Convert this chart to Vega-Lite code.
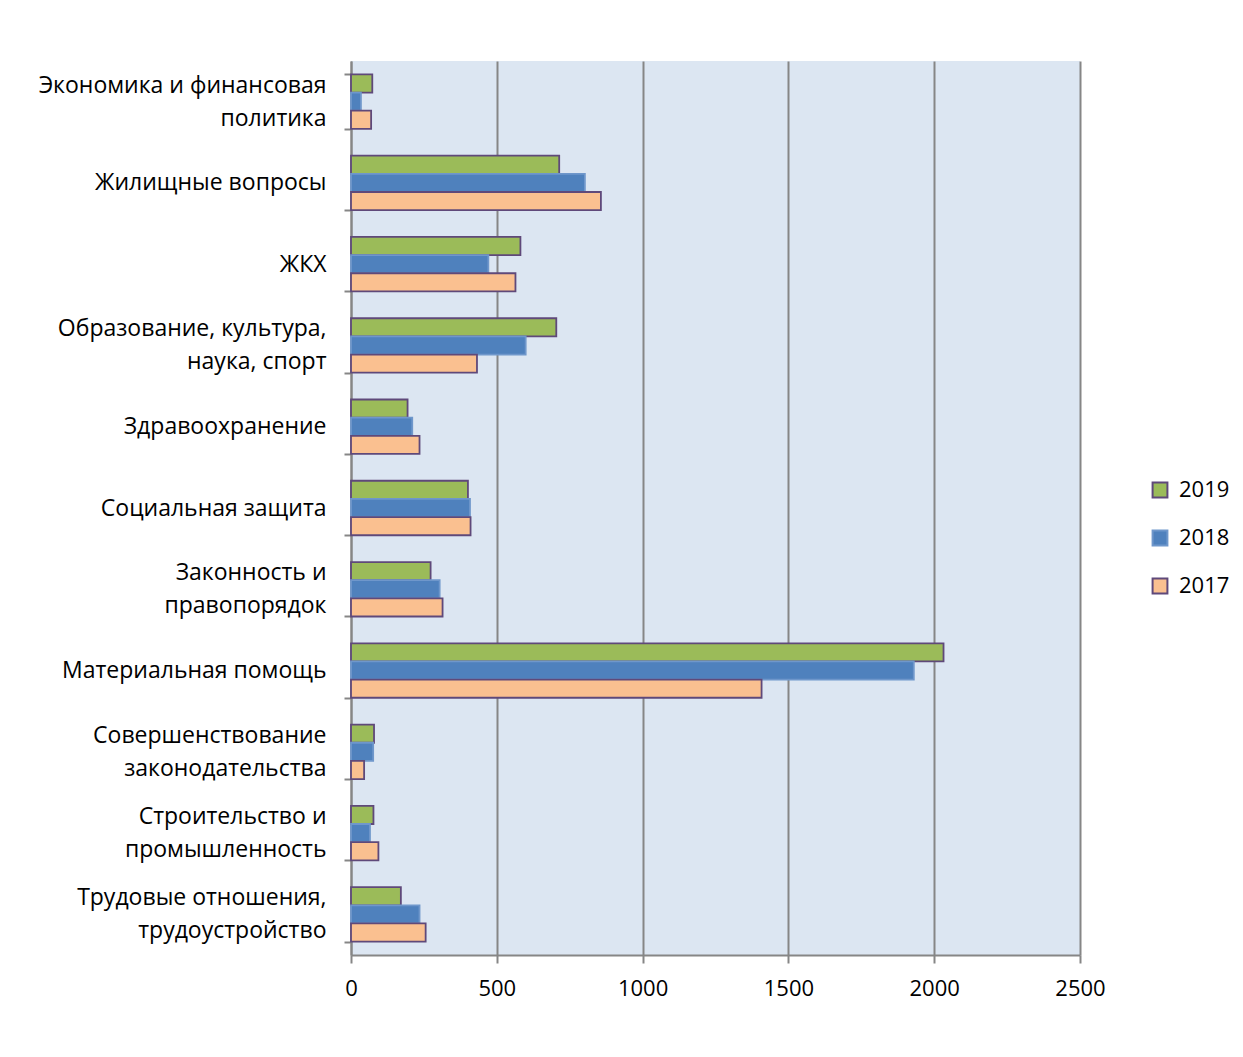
{
  "$schema": "https://vega.github.io/schema/vega-lite/v6.json",
  "autosize": {"type": "none"},
  "width": 729,
  "height": 894,
  "padding": {"left": 351, "top": 61, "right": 163, "bottom": 102},
  "background": "white",
  "config": {
    "view": {"fill": "#DCE6F2", "stroke": null},
    "font": "Open Sans"
  },
  "data": {
    "values": [
      {"cat": "Экономика и финансовая|политика", "year": "2019", "value": 73},
      {"cat": "Экономика и финансовая|политика", "year": "2018", "value": 34},
      {"cat": "Экономика и финансовая|политика", "year": "2017", "value": 69},
      {"cat": "Жилищные вопросы", "year": "2019", "value": 714},
      {"cat": "Жилищные вопросы", "year": "2018", "value": 802},
      {"cat": "Жилищные вопросы", "year": "2017", "value": 857},
      {"cat": "ЖКХ", "year": "2019", "value": 581},
      {"cat": "ЖКХ", "year": "2018", "value": 471},
      {"cat": "ЖКХ", "year": "2017", "value": 564},
      {"cat": "Образование, культура,|наука, спорт", "year": "2019", "value": 704},
      {"cat": "Образование, культура,|наука, спорт", "year": "2018", "value": 599},
      {"cat": "Образование, культура,|наука, спорт", "year": "2017", "value": 432},
      {"cat": "Здравоохранение", "year": "2019", "value": 194},
      {"cat": "Здравоохранение", "year": "2018", "value": 210},
      {"cat": "Здравоохранение", "year": "2017", "value": 235},
      {"cat": "Социальная защита", "year": "2019", "value": 401},
      {"cat": "Социальная защита", "year": "2018", "value": 408},
      {"cat": "Социальная защита", "year": "2017", "value": 410},
      {"cat": "Законность и |правопорядок", "year": "2019", "value": 273},
      {"cat": "Законность и |правопорядок", "year": "2018", "value": 304},
      {"cat": "Законность и |правопорядок", "year": "2017", "value": 314},
      {"cat": "Материальная помощь", "year": "2019", "value": 2032},
      {"cat": "Материальная помощь", "year": "2018", "value": 1930},
      {"cat": "Материальная помощь", "year": "2017", "value": 1408},
      {"cat": "Совершенствование|законодательства", "year": "2019", "value": 79},
      {"cat": "Совершенствование|законодательства", "year": "2018", "value": 76},
      {"cat": "Совершенствование|законодательства", "year": "2017", "value": 45},
      {"cat": "Строительство и |промышленность", "year": "2019", "value": 77},
      {"cat": "Строительство и |промышленность", "year": "2018", "value": 65},
      {"cat": "Строительство и |промышленность", "year": "2017", "value": 94},
      {"cat": "Трудовые отношения,|трудоустройство", "year": "2019", "value": 171},
      {"cat": "Трудовые отношения,|трудоустройство", "year": "2018", "value": 235},
      {"cat": "Трудовые отношения,|трудоустройство", "year": "2017", "value": 256}
    ]
  },
  "mark": {"type": "bar", "strokeWidth": 1.8, "opacity": 1},
  "encoding": {
    "y": {
      "field": "cat",
      "type": "nominal",
      "sort": null,
      "scale": {"paddingInner": 0.33, "paddingOuter": 0.165},
      "axis": {
        "title": null,
        "labelExpr": "indexof(datum.label, '|') >= 0 ? [split(datum.label, '|')[0], '\u200b', split(datum.label, '|')[1]] : ['\u200b', datum.label]",
        "labelFontSize": 23,
        "labelColor": "#000000",
        "labelLineHeight": 16.5,
        "labelOffset": -16.5,
        "labelPadding": 18,
        "labelLimit": 400,
        "tickBand": "extent",
        "tickSize": 7,
        "tickColor": "#868686",
        "tickWidth": 2,
        "domainColor": "#868686",
        "domainWidth": 2,
        "grid": false
      }
    },
    "yOffset": {
      "field": "year",
      "type": "nominal",
      "sort": ["2019", "2018", "2017"],
      "scale": {"paddingInner": 0, "paddingOuter": 0}
    },
    "x": {
      "field": "value",
      "type": "quantitative",
      "scale": {"domain": [0, 2500], "nice": false},
      "axis": {
        "title": null,
        "values": [0, 500, 1000, 1500, 2000, 2500],
        "format": "d",
        "labelFontSize": 22,
        "labelColor": "#000000",
        "labelPadding": 15,
        "labelFlush": false,
        "tickSize": 8,
        "tickColor": "#868686",
        "tickWidth": 2,
        "domainColor": "#868686",
        "domainWidth": 2,
        "grid": true,
        "gridColor": "#868686",
        "gridWidth": 2
      }
    },
    "color": {
      "field": "year",
      "type": "nominal",
      "scale": {"domain": ["2019", "2018", "2017"], "range": ["#9BBB59", "#4F81BD", "#FAC090"]},
      "legend": {
        "title": null,
        "orient": "none",
        "legendX": 798,
        "legendY": 418,
        "symbolType": "square",
        "symbolSize": 220,
        "symbolStrokeWidth": 2,
        "labelFontSize": 22,
        "labelColor": "#000000",
        "rowPadding": 24,
        "labelOffset": 8
      }
    },
    "stroke": {
      "field": "year",
      "type": "nominal",
      "scale": {"domain": ["2019", "2018", "2017"], "range": ["#5F497A", "#6F97CB", "#5F497A"]},
      "legend": {
        "title": null,
        "orient": "none",
        "legendX": 798,
        "legendY": 418,
        "symbolType": "square",
        "symbolSize": 220,
        "symbolStrokeWidth": 2,
        "labelFontSize": 22,
        "labelColor": "#000000",
        "rowPadding": 24,
        "labelOffset": 8
      }
    }
  }
}
